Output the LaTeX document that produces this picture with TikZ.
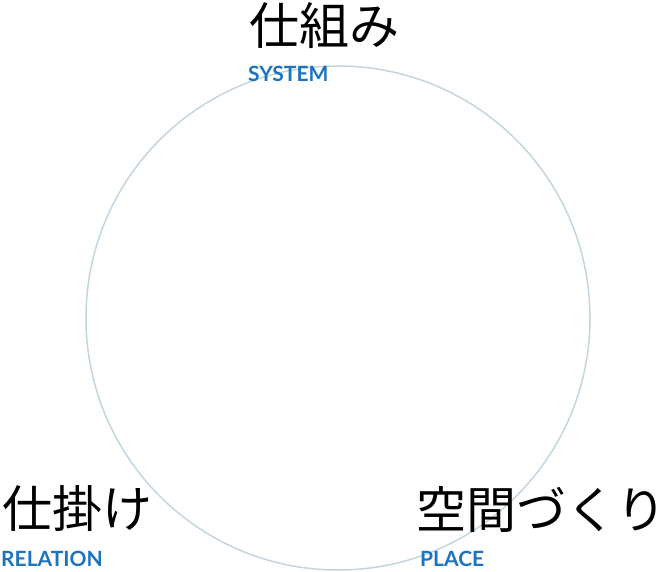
\documentclass[tikz,border=0pt]{standalone}
\usepackage{fontspec}
\newfontfamily\jpfont{Noto Sans CJK JP}
\newfontfamily\enfont{Lato}
\usetikzlibrary{positioning}
\definecolor{ringgray}{RGB}{197,213,221}
\definecolor{tagblue}{RGB}{30,115,190}
\tikzset{
	ring/.style={
		draw=ringgray,
		line width=1.5pt,
	},
	title/.style={
		anchor=base west,
		inner sep=0pt,
		font=\jpfont\fontsize{50pt}{50pt}\selectfont,
	},
	tag/.style={
		anchor=base west,
		inner sep=0pt,
		text=tagblue,
		font=\enfont\bfseries\fontsize{21pt}{21pt}\selectfont,
	},
}

\begin{document}
\begin{tikzpicture}[x=1pt,y=-1pt]
	\useasboundingbox (0,0) rectangle (667,572);

	\node [ring,circle,minimum size=504pt] (c) at (338,318) {};

	\node [title] (sys) at (249,45) {仕組み};
	\node [tag] (syst) at (248,82) {SYSTEM};

	\node [title] (rel) at (2,527) {仕掛け};
	\node [tag] (relt) at (1,566) {RELATION};

	\node [title] (plc) at (416,528) {空間づくり};
	\node [tag] (plct) at (420,566) {PLACE};
\end{tikzpicture}
\end{document}
